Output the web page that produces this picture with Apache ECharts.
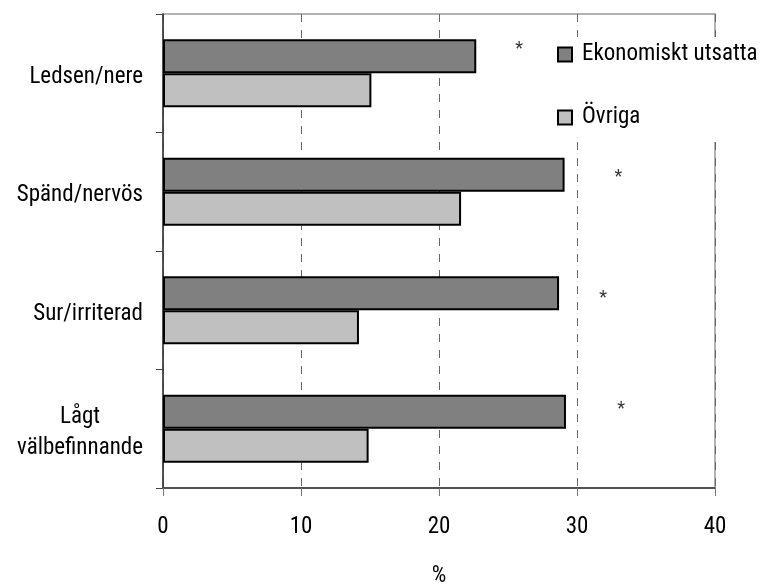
<!DOCTYPE html>
<html>
<head>
<meta charset="utf-8">
<script src="https://cdn.jsdelivr.net/npm/echarts@6/dist/echarts.min.js"></script>
<style>
  html, body { margin: 0; padding: 0; background: #fff; }
  #chart { width: 766px; height: 584px; }
</style>
</head>
<body>
<div id="chart"></div>
<script>
const categories = ["Ledsen/nere", "Spänd/nervös", "Sur/irriterad", "Lågt\nvälbefinnande"];
const utsatta = [22.7, 29.1, 28.7, 29.2];
const ovriga = [15.1, 21.6, 14.2, 14.9];
// significance stars, x position in %
const starX = [25.8, 33.0, 31.9, 33.2];
const xTicks = [0, 10, 20, 30, 40];

const FONT = "'Roboto Condensed', Roboto, sans-serif";
const txt = (size) => ({
  fontSize: size,
  fontFamily: FONT,
  color: "#000",
});
const starNudge = [-24, -14, -12, -19];

const chart = echarts.init(document.getElementById("chart"));

let options = {
  animation: false,
  textStyle: { fontFamily: FONT, color: "#000" },
  grid: {
    left: 163,
    right: 51,
    top: 14,
    bottom: 96,
    outerBoundsMode: "none",
    show: true,
    borderColor: "#999",
    borderWidth: 1.5,
    backgroundColor: "transparent",
  },
  legend: {
    orient: "vertical",
    left: 553,
    top: 37,
    backgroundColor: "#fff",
    padding: [6, 10, 13, 4],
    itemGap: 40,
    itemWidth: 14,
    itemHeight: 14,
    textStyle: { ...txt(23), lineHeight: 23, padding: [0, 0, 0, 5] },
    data: [
      { name: "Ekonomiskt utsatta", icon: "rect" },
      { name: "Övriga", icon: "rect" },
    ],
  },
  xAxis: {
    type: "value",
    min: xTicks[0],
    max: xTicks[xTicks.length - 1],
    interval: 10,
    name: "%",
    nameLocation: "center",
    nameGap: 77,
    nameTextStyle: txt(23),
    axisLine: { show: true, lineStyle: { color: "#333", width: 1.5 } },
    axisTick: { show: true, length: 8, lineStyle: { color: "#777" } },
    axisLabel: { ...txt(23), margin: 28 },
    splitLine: { show: true, lineStyle: { color: "#666", type: [8, 8], width: 1 } },
  },
  yAxis: {
    type: "category",
    data: categories,
    inverse: true,
    axisLine: { show: true, lineStyle: { color: "#333", width: 1.5 } },
    axisTick: { show: true, length: 7, lineStyle: { color: "#444" } },
    axisLabel: {
      ...txt(23),
      margin: 20,
      align: "right",
      padding: [7, 0, 0, 0],
      // lines of a two-line label are centred on each other
      formatter: (val) => val.split("\n").map((s) => "{c|" + s + "}").join("\n"),
      rich: {
        c: { ...txt(23), align: "center", lineHeight: 31 },
      },
    },
    splitLine: { show: false },
  },
  series: [
    {
      name: "Ekonomiskt utsatta",
      type: "bar",
      data: utsatta,
      barWidth: 34,
      barGap: "0%",
      itemStyle: { color: "#808080", borderColor: "#000", borderWidth: 2 },
      z: 3,
    },
    {
      name: "Övriga",
      type: "bar",
      data: ovriga,
      barWidth: 34,
      itemStyle: { color: "#c0c0c0", borderColor: "#000", borderWidth: 2 },
      z: 3,
    },
    {
      name: "stars",
      type: "scatter",
      symbolSize: 0,
      silent: true,
      data: starX.map((v, i) => ({
        value: [v, i],
        label: {
          show: true,
          formatter: "*",
          position: "inside",
          offset: [0, starNudge[i]],
          ...txt(18),
        },
      })),
      z: 4,
    },
  ],
};

chart.setOption(options, true);
</script>
</body>
</html>
